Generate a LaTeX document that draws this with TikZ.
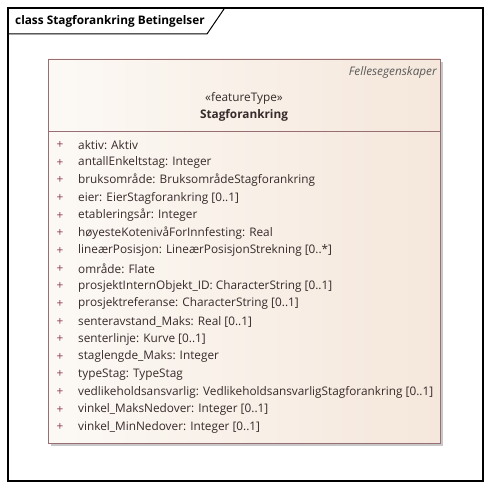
\documentclass[tikz,border=0pt]{standalone}
\usepackage{fontspec}
\setmainfont{Open Sans}
\definecolor{boxborder}{RGB}{150,110,115}
\definecolor{fillL}{RGB}{252,249,245}
\definecolor{fillR}{RGB}{245,231,219}
\definecolor{shadowc}{RGB}{200,200,200}
\definecolor{plusc}{RGB}{140,60,85}
\definecolor{txtc}{RGB}{55,42,42}
\tikzset{
  attr/.style={anchor=west, inner sep=0pt, font=\fontsize{11.8}{14}\selectfont, text=txtc},
  plus/.style={anchor=center, inner sep=0pt, font=\fontsize{11.8}{14}\selectfont, text=plusc},
}
\begin{document}
\begin{tikzpicture}[x=1pt,y=-1pt]
\useasboundingbox (0,0) rectangle (491,489);
% frame
\draw[line width=1.3pt] (8,8) rectangle (483,481);
\draw[line width=1pt] (8,34) -- (207,34) -- (224,9);
\node[anchor=west, inner sep=0pt, font=\fontsize{11.8}{14}\selectfont\bfseries] (title) at (15,21) {class Stagforankring Betingelser};
% shadow
\fill[shadowc] (51,62) rectangle (443,446);
% box
\shade[left color=fillL, right color=fillR] (48,59) rectangle (440,443);
\draw[boxborder, line width=0.9pt] (48,59) rectangle (440,443);
\draw[boxborder, line width=0.9pt] (48,131) -- (440,131);
\node[anchor=east, inner sep=0pt, font=\fontsize{11.8}{14}\selectfont\itshape, text=black!65] (fe) at (437,72) {Fellesegenskaper};
\node[inner sep=0pt, font=\fontsize{11.8}{14}\selectfont, text=txtc] (st) at (244,98) {«featureType»};
\node[inner sep=0pt, font=\fontsize{11.8}{14}\selectfont\bfseries, text=txtc] (name) at (244,115) {Stagforankring};
% attributes
\foreach \i/\t in {0/{aktiv: Aktiv},1/{antallEnkeltstag: Integer},2/{bruksområde: BruksområdeStagforankring},3/{eier: EierStagforankring [0..1]},4/{etableringsår: Integer},5/{høyesteKotenivåForInnfesting: Real},6/{lineærPosisjon: LineærPosisjonStrekning [0..*]},7/{område: Flate},8/{prosjektInternObjekt\_ID: CharacterString [0..1]},9/{prosjektreferanse: CharacterString [0..1]},10/{senteravstand\_Maks: Real [0..1]},11/{senterlinje: Kurve [0..1]},12/{staglengde\_Maks: Integer},13/{typeStag: TypeStag},14/{vedlikeholdsansvarlig: VedlikeholdsansvarligStagforankring [0..1]},15/{vinkel\_MaksNedover: Integer [0..1]},16/{vinkel\_MinNedover: Integer [0..1]}}{
  \node[plus] (p\i) at (60,145+17.65*\i) {+};
  \node[attr] (a\i) at (78,145+17.65*\i) {\t};
}
\end{tikzpicture}
\end{document}
